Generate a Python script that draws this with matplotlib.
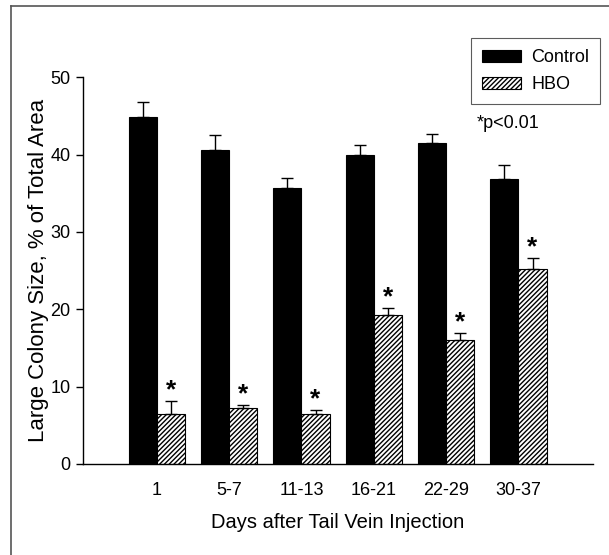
import numpy as np
import matplotlib
matplotlib.use("Agg")
import matplotlib.pyplot as plt
from matplotlib.lines import Line2D

plt.rcParams['font.family'] = ['Liberation Sans', 'DejaVu Sans']
plt.rcParams['hatch.linewidth'] = 1.0

groups = ["1", "5-7", "11-13", "16-21", "22-29", "30-37"]
control = [44.9, 40.6, 35.7, 40.0, 41.5, 36.8]
control_err = [1.9, 1.9, 1.3, 1.2, 1.2, 1.8]
hbo = [6.4, 7.2, 6.4, 19.2, 16.0, 25.2]
hbo_err = [1.7, 0.45, 0.55, 1.0, 0.95, 1.4]

fig = plt.figure(figsize=(6.09, 5.55), dpi=100)
ax = fig.add_axes([0.1363, 0.164, 0.8374, 0.697])

x = np.arange(len(groups))
w = 0.39

ax.bar(x - w / 2, control, w, color='black', edgecolor='black', linewidth=0.8, label='Control')
ax.bar(x + w / 2, hbo, w, color='white', edgecolor='black', linewidth=0.8, hatch='///////', label='HBO')

ax.errorbar(x - w / 2, control, yerr=[np.zeros(len(x)), control_err], fmt='none',
            ecolor='black', elinewidth=1, capsize=4, capthick=1)
ax.errorbar(x + w / 2, hbo, yerr=[np.zeros(len(x)), hbo_err], fmt='none',
            ecolor='black', elinewidth=1, capsize=4, capthick=1)

# significance stars above HBO bars
for xi, v, e in zip(x, hbo, hbo_err):
    ax.annotate('*', (xi + w / 2, v + e), xytext=(0, -1), textcoords='offset points',
                ha='center', va='bottom', fontsize=19, fontweight='bold')

ax.set_xlim(-1.02, 6.03)
ax.set_ylim(0, 50)
ax.set_yticks([0, 10, 20, 30, 40, 50])
ax.set_xticks(x)
ax.set_xticklabels(groups)
ax.tick_params(axis='x', length=0, pad=13, labelsize=13)
ax.tick_params(axis='y', length=5, width=1, pad=4, labelsize=13)
ax.spines['top'].set_visible(False)
ax.spines['right'].set_visible(False)
ax.spines['left'].set_linewidth(1)
ax.spines['bottom'].set_linewidth(1)

ax.set_ylabel("Large Colony Size, % of Total Area", fontsize=16, labelpad=1)
ax.set_xlabel("Days after Tail Vein Injection", fontsize=14.5, labelpad=10)

leg = ax.legend(loc='upper right', bbox_to_anchor=(1.014, 1.10), fontsize=13,
                frameon=True, fancybox=False, edgecolor='#333333',
                handlelength=2.2, handleheight=0.7, handletextpad=0.55,
                borderpad=0.6, labelspacing=0.55, borderaxespad=0)
leg.get_frame().set_linewidth(0.8)

fig.text(477 / 609, 1 - 123 / 555, "*p<0.01", fontsize=13, va='center', ha='left')

# image frame (left and top edges)
fig.add_artist(Line2D([11 / 609, 11 / 609], [0, 1 - 6 / 555], color='#555555', lw=1.2))
fig.add_artist(Line2D([11 / 609, 1], [1 - 6 / 555, 1 - 6 / 555], color='#555555', lw=1.2))

fig.savefig("out.png", dpi=100)
